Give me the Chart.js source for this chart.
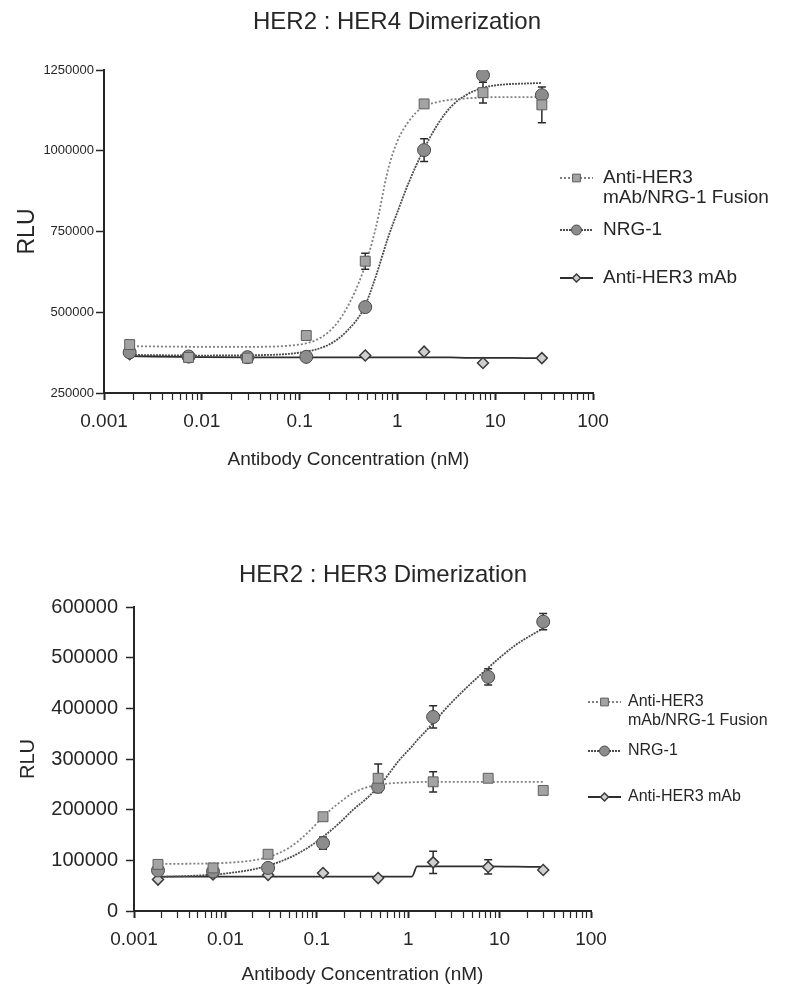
<!DOCTYPE html>
<html>
<head>
<meta charset="utf-8">
<script src="https://cdn.jsdelivr.net/npm/chart.js@4.4.0/dist/chart.umd.min.js"></script>
<style>
  html, body { margin: 0; padding: 0; background: #fff; }
  #wrap { position: relative; width: 800px; height: 996px; }
  canvas { position: absolute; left: 0; }
  #her4 { top: 0; }
  #her3 { top: 500px; }
</style>
</head>
<body>
<div id="wrap">
  <canvas id="her4" width="800" height="500"></canvas>
  <canvas id="her3" width="800" height="496"></canvas>
</div>
<script>
// antibody concentrations (nM), 4-fold dilutions
const conc = [0.00183, 0.00732, 0.0293, 0.117, 0.469, 1.875, 7.5, 30]
const seriesNames = [['Anti-HER3', 'mAb/NRG-1 Fusion'], ['NRG-1'], ['Anti-HER3 mAb']]
const decades = [0.001, 0.01, 0.1, 1, 10, 100]
const xTickLabels = ['0.001', '0.01', '0.1', '1', '10', '100']

// HER2 : HER4 measured points (RLU) and error bars
const her4Fusion = [400000, 360000, 358000, 428000, 658000, 1145000, 1180000, 1142000]
const her4Nrg = [376000, 363000, 361000, 362000, 516000, 1002000, 1234000, 1172000]
const her4Mab = [370000, 362000, 360000, 360000, 366000, 378000, 343000, 358000]
const her4FusionErr = [0, 0, 0, 0, 25000, 0, 32000, 55000]
const her4NrgErr = [0, 0, 0, 0, 0, 35000, 0, 0]
const her4MabErr = [0, 0, 0, 0, 0, 0, 0, 0]

// HER2 : HER4 fitted curves
const her4FitX = [0.0018, 0.01, 0.03, 0.1, 0.2, 0.3, 0.45, 0.6, 0.8, 1, 1.3, 1.8, 2.5, 3.5, 5, 7.5, 12, 20, 30]
const her4FitFusion = [395000, 393000, 393000, 400000, 440000, 510000, 630000, 760000, 940000, 1030000, 1090000, 1135000, 1150000, 1158000, 1162000, 1165000, 1166000, 1166000, 1166000]
const her4FitNrg = [368000, 366000, 367000, 375000, 400000, 440000, 510000, 610000, 730000, 810000, 900000, 995000, 1075000, 1135000, 1172000, 1195000, 1205000, 1208000, 1210000]
const her4FitMab = [364000, 361000, 360000, 360000, 360000, 360000, 360000, 360000, 360000, 360000, 360000, 360000, 360000, 360000, 359000, 359000, 359000, 358000, 358000]

// HER2 : HER3 measured points (RLU) and error bars
const her3Fusion = [92000, 85000, 112000, 186000, 262000, 255000, 262000, 238000]
const her3Nrg = [80000, 78000, 85000, 134000, 245000, 383000, 462000, 571000]
const her3Mab = [62000, 72000, 71000, 75000, 65000, 96000, 87000, 81000]
const her3FusionErr = [0, 0, 0, 0, 28000, 20000, 0, 0]
const her3NrgErr = [0, 0, 0, 12000, 0, 22000, 16000, 16000]
const her3MabErr = [0, 0, 0, 0, 0, 22000, 14000, 0]

// HER2 : HER3 fitted curves
const her3FitX = [0.0018, 0.005, 0.01, 0.02, 0.03, 0.05, 0.08, 0.12, 0.18, 0.25, 0.35, 0.5, 0.8, 1.1, 1.25, 1.5, 3, 7.5, 15, 30]
const her3FitFusion = [93000, 93500, 95000, 100000, 107000, 125000, 155000, 188000, 215000, 233000, 244000, 250000, 253000, 254000, 254500, 255000, 255000, 255000, 255000, 255000]
const her3FitNrg = [67000, 70000, 74000, 82000, 90000, 105000, 125000, 148000, 175000, 200000, 222000, 250000, 298000, 325000, 337000, 352000, 412000, 480000, 525000, 558000]
const her3FitMab = [68000, 68000, 68000, 68000, 68000, 68000, 68000, 68000, 68000, 68000, 68000, 68000, 68000, 68000, 88000, 88000, 88000, 88000, 87500, 87000]

const FONT = "'Liberation Sans', Arial, sans-serif"
const INK = '#262626'

const xy = (xs, ys) => xs.map((x, i) => ({ x: x, y: ys[i] }))

// minor ticks 1..9 in every decade, decades marked major
const logTicks = []
decades.forEach((d, i) => {
	if (i === decades.length - 1) { logTicks.push({ value: d, major: true }); return }
	for (let k = 1; k <= 9; k++) logTicks.push({ value: k * d, major: k === 1 })
})

const pointStyles = [
	{ pointStyle: 'rect', pointRadius: 7, backgroundColor: '#a3a3a3', borderColor: '#5e5e5e', borderWidth: 1 },
	{ pointStyle: 'circle', pointRadius: 6.5, backgroundColor: '#8c8c8c', borderColor: '#4a4a4a', borderWidth: 1 },
	{ pointStyle: 'rectRot', pointRadius: 5.5, backgroundColor: '#cfcfcf', borderColor: '#3a3a3a', borderWidth: 1.5 }
]
const lineStyles = [
	{ borderColor: '#808080', borderWidth: 1.8, borderDash: [2, 2] },
	{ borderColor: '#4d4d4d', borderWidth: 1.8, borderDash: [2, 1] },
	{ borderColor: '#2e2e2e', borderWidth: 1.8, borderDash: [] }
]

const errorBars = {
	id: 'errorBars',
	beforeDatasetsDraw(chart) {
		const ctx = chart.ctx
		const ys = chart.scales.y
		chart.data.datasets.forEach((ds, i) => {
			if (!ds.errors) return
			const meta = chart.getDatasetMeta(i)
			ctx.save()
			ctx.strokeStyle = '#2a2a2a'
			ctx.lineWidth = 1.5
			meta.data.forEach((pt, j) => {
				const e = ds.errors[j]
				if (!e) return
				const top = ys.getPixelForValue(ds.data[j].y + e)
				const bot = ys.getPixelForValue(ds.data[j].y - e)
				ctx.beginPath()
				ctx.moveTo(pt.x, top); ctx.lineTo(pt.x, bot)
				ctx.moveTo(pt.x - 4, top); ctx.lineTo(pt.x + 4, top)
				ctx.moveTo(pt.x - 4, bot); ctx.lineTo(pt.x + 4, bot)
				ctx.stroke()
			})
			ctx.restore()
		})
	}
}

function sideLegend(cfg) {
	return {
		id: 'sideLegend',
		afterDraw(chart) {
			const ctx = chart.ctx
			cfg.rows.forEach((y, k) => {
				const ls = lineStyles[k]
				const ps = pointStyles[k]
				ctx.save()
				ctx.strokeStyle = ls.borderColor
				ctx.lineWidth = ls.borderWidth
				ctx.setLineDash(ls.borderDash)
				ctx.beginPath()
				ctx.moveTo(cfg.x, y); ctx.lineTo(cfg.x + cfg.len, y)
				ctx.stroke()
				ctx.setLineDash([])
				ctx.fillStyle = ps.backgroundColor
				ctx.strokeStyle = ps.borderColor
				ctx.lineWidth = ps.borderWidth
				Chart.helpers.drawPoint(ctx, { pointStyle: ps.pointStyle, radius: ps.pointRadius - 1.5, borderWidth: ps.borderWidth, rotation: 0 }, cfg.x + cfg.len / 2, y)
				ctx.fillStyle = INK
				ctx.font = cfg.size + 'px ' + FONT
				ctx.textBaseline = 'middle'
				seriesNames[k].forEach((line, n) => ctx.fillText(line, cfg.textX, y + n * cfg.gap))
				ctx.restore()
			})
		}
	}
}

function makeChart(id, c) {
	const datasets = []
	c.points.forEach((ys, k) => {
		datasets.push(Object.assign({
			data: xy(conc, ys), errors: c.errors[k], showLine: false,
			xAxisID: 'x', yAxisID: 'y', order: 0, pointHoverRadius: 6
		}, pointStyles[k]))
	})
	c.fits.forEach((ys, k) => {
		datasets.push(Object.assign({
			data: xy(c.fitX, ys), showLine: true, pointRadius: 0, fill: false,
			cubicInterpolationMode: 'monotone', xAxisID: 'x', yAxisID: 'y', order: 1
		}, lineStyles[k]))
	})

	return new Chart(id, {
		type: 'scatter',
		data: { datasets: datasets },
		plugins: [errorBars, sideLegend(c.legend)],
		options: {
			responsive: false,
			animation: false,
			events: [],
			layout: { padding: { left: 0, right: c.padRight, top: 0, bottom: 0 } },
			plugins: {
				legend: { display: false },
				tooltip: { enabled: false },
				title: {
					display: true, text: c.title, color: INK,
					font: { family: FONT, size: 24, weight: 'normal' },
					padding: c.titlePad
				}
			},
			scales: {
				x: {
					type: 'logarithmic', position: 'bottom', min: 0.001, max: 100,
					afterBuildTicks: s => { s.ticks = logTicks.map(t => ({ value: t.value, major: t.major })) },
					afterFit: s => { s.height = c.xHeight },
					border: { color: INK, width: 2 },
					grid: {
						drawOnChartArea: false, tickLength: 7, tickColor: INK,
						tickWidth: ctx => (ctx.tick && ctx.tick.major ? 2 : 1.2)
					},
					ticks: {
						autoSkip: false, maxRotation: 0, minRotation: 0, color: INK, padding: 10,
						font: { family: FONT, size: 19 },
						callback: v => {
							const i = decades.findIndex(d => Math.abs(d - v) / d < 1e-6)
							return i >= 0 ? xTickLabels[i] : ''
						}
					},
					title: {
						display: true, text: 'Antibody Concentration (nM)', color: INK,
						font: { family: FONT, size: 19 }, padding: { top: 0, bottom: c.xTitlePad }
					}
				},
				y: {
					type: 'linear', position: 'left', min: c.yMin, max: c.yMax,
					afterFit: s => { s.width = c.yWidth },
					border: { color: INK, width: 2 },
					grid: { drawOnChartArea: false, tickLength: 8, tickColor: INK, tickWidth: 1.5 },
					ticks: {
						stepSize: c.yStep, color: INK, padding: c.yTickPad,
						font: { family: FONT, size: c.yTickSize },
						callback: v => String(v)
					},
					title: {
						display: true, text: 'RLU', color: INK,
						font: { family: FONT, size: c.rluSize }, padding: { top: c.rluPad, bottom: 0 }
					}
				},
				pad: {
					type: 'linear', position: 'right', display: true,
					afterFit: s => { s.width = c.rightWidth },
					border: { display: false },
					grid: { display: false, drawTicks: false },
					ticks: { display: false }
				}
			}
		}
	})
}

makeChart('her4', {
	title: 'HER2 : HER4 Dimerization',
	titlePad: { top: 7.6, bottom: 33.6 },
	points: [her4Fusion, her4Nrg, her4Mab],
	errors: [her4FusionErr, her4NrgErr, her4MabErr],
	fitX: her4FitX,
	fits: [her4FitFusion, her4FitNrg, her4FitMab],
	yMin: 250000, yMax: 1250000, yStep: 250000,
	yWidth: 104, yTickPad: 2, yTickSize: 13,
	rluSize: 23, rluPad: 14.2,
	xHeight: 107, xTitlePad: 28.6,
	padRight: 6, rightWidth: 201,
	legend: { x: 560, len: 33, textX: 603, rows: [178, 230, 278], gap: 20, size: 19 }
})

makeChart('her3', {
	title: 'HER2 : HER3 Dimerization',
	titlePad: { top: 60.6, bottom: 17.6 },
	points: [her3Fusion, her3Nrg, her3Mab],
	errors: [her3FusionErr, her3NrgErr, her3MabErr],
	fitX: her3FitX,
	fits: [her3FitFusion, her3FitNrg, her3FitMab],
	yMin: 0, yMax: 600000, yStep: 100000,
	yWidth: 134, yTickPad: 8, yTickSize: 20,
	rluSize: 20, rluPad: 16,
	xHeight: 85, xTitlePad: 9.6,
	padRight: 34, rightWidth: 175,
	legend: { x: 588, len: 33, textX: 628, rows: [202, 251, 297], gap: 19, size: 16 }
})
</script>
</body>
</html>
